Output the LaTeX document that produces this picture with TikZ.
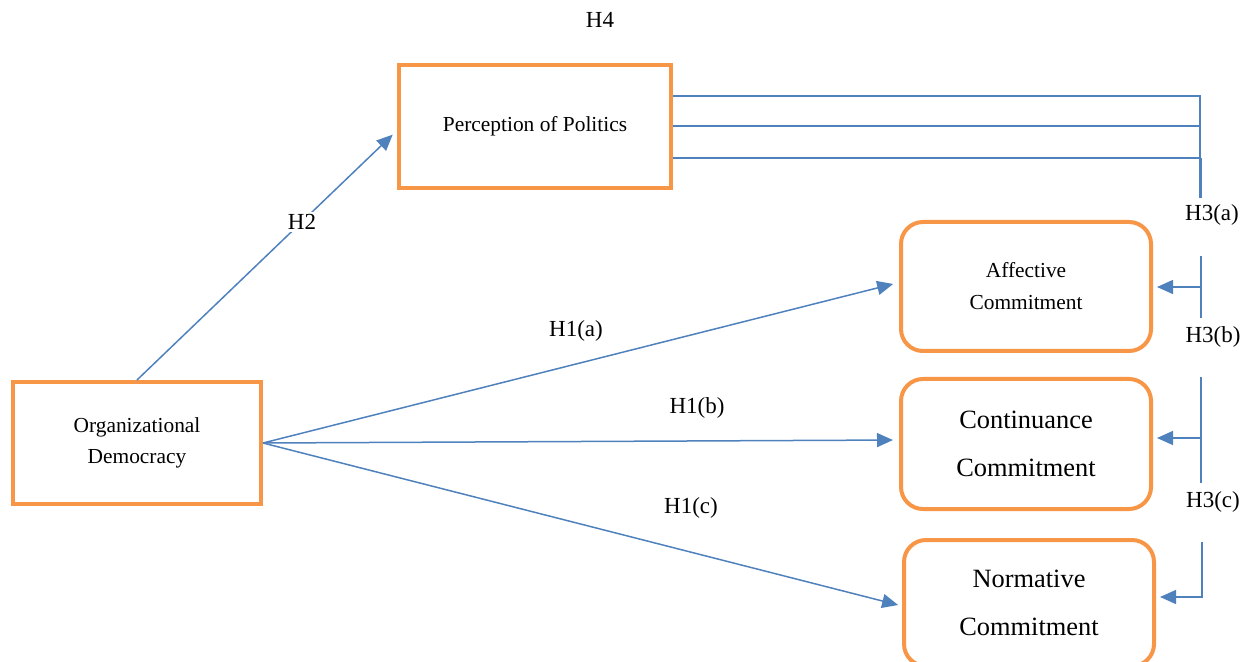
\documentclass[tikz,border=0pt]{standalone}
\usepackage{fontspec}
\setmainfont{Liberation Serif}
\usetikzlibrary{arrows.meta,positioning,calc}
\definecolor{boxorange}{HTML}{F79646}
\definecolor{linkblue}{HTML}{4F81BD}

\begin{document}
\begin{tikzpicture}[
      x=0.5pt, y=-0.5pt,
      sqbox/.style={draw=boxorange, line width=2pt, align=center, inner sep=2pt, font=\fontsize{10.7}{15.5}\selectfont},
      rbox/.style={draw=boxorange, line width=2pt, rounded corners=11pt, align=center, inner sep=2pt, minimum width=125pt, minimum height=64.5pt},
      small/.style={font=\fontsize{10.7}{16}\selectfont},
      big/.style={font=\fontsize{13.2}{24}\selectfont},
      lbl/.style={font=\fontsize{11.5}{13}\selectfont, inner sep=1pt},
      link/.style={draw=linkblue, line width=0.75pt},
      >={Triangle[length=8pt,width=7pt]}
    ]
    \useasboundingbox (0,0) rectangle (1252,662);

    % Predictor and mediator
    \node[sqbox, minimum width=124pt, minimum height=61pt] (od) at (137,443) {Organizational\\Democracy};
    \node[sqbox, minimum width=136pt, minimum height=61.5pt] (pop) at (535,126.5) {Perception of Politics};

    % Commitment outcomes
    \node[rbox, small] (ac) at (1026,286.5) {Affective\\Commitment};
    \node[rbox, big, minimum height=65pt, below=12pt of ac] (cc) {Continuance\\Commitment};
    \node[rbox, big, minimum height=63pt, below=13.5pt of cc, xshift=1.5pt] (nc) {Normative\\Commitment};

    % H2
    \draw[link, ->, shorten >=3pt] (od.north) -- ([yshift=-2pt]pop.west);
    \node[lbl, fill=white] (h2) at (302,222) {H2};

    % H1(a)-(c)
    \draw[link, ->, shorten >=3pt] (od.east) -- ([yshift=2pt]ac.west);
    \draw[link, ->, shorten >=3pt] (od.east) -- ([yshift=2pt]cc.west);
    \draw[link, ->, shorten >=2pt] (od.east) -- ([yshift=-1.5pt]nc.west);
    \node[lbl] (h1a) at (576,331) {H1(a)};
    \node[lbl] (h1b) at (697,408) {H1(b)};
    \node[lbl] (h1c) at (691,508) {H1(c)};

    % H3 and H4 links on the right
    \coordinate (j1) at (1200,96);
    \coordinate (j2) at (1200,126);
    \coordinate (j3) at (1200,158);
    \coordinate (j4) at (1200,198);
    \draw[link] (pop.east |- j1) -- (j1) -- (j3);
    \draw[link] (pop.east |- j2) -- (j2);
    \draw[link] (pop.east |- j3) -- (j3);
    \draw[link, line width=1.5pt] (j3) -- (j4);
    \node[lbl] (h3a) at (1212,215) {H3(a)};

    \coordinate (ka) at (1201,256);
    \coordinate (kb) at (1201,318);
    \coordinate (ak) at (1201,287);
    \draw[link] (ka) -- (kb);
    \draw[link, ->, shorten >=2pt] (ak) -- (ac.east |- ak);
    \node[lbl] (h3b) at (1213,337) {H3(b)};

    \coordinate (la) at (1201,377);
    \coordinate (lb) at (1201,483);
    \coordinate (cl) at (1201,438);
    \draw[link] (la) -- (lb);
    \draw[link, ->, shorten >=2pt] (cl) -- (cc.east |- cl);
    \node[lbl] (h3c) at (1213,502) {H3(c)};

    \coordinate (ma) at (1202,542);
    \coordinate (nm) at (1202,597);
    \draw[link, ->, shorten >=2pt] (ma) -- (nm) -- (nc.east |- nm);

    \node[lbl] (h4) at (600,20) {H4};

\end{tikzpicture}
\end{document}
